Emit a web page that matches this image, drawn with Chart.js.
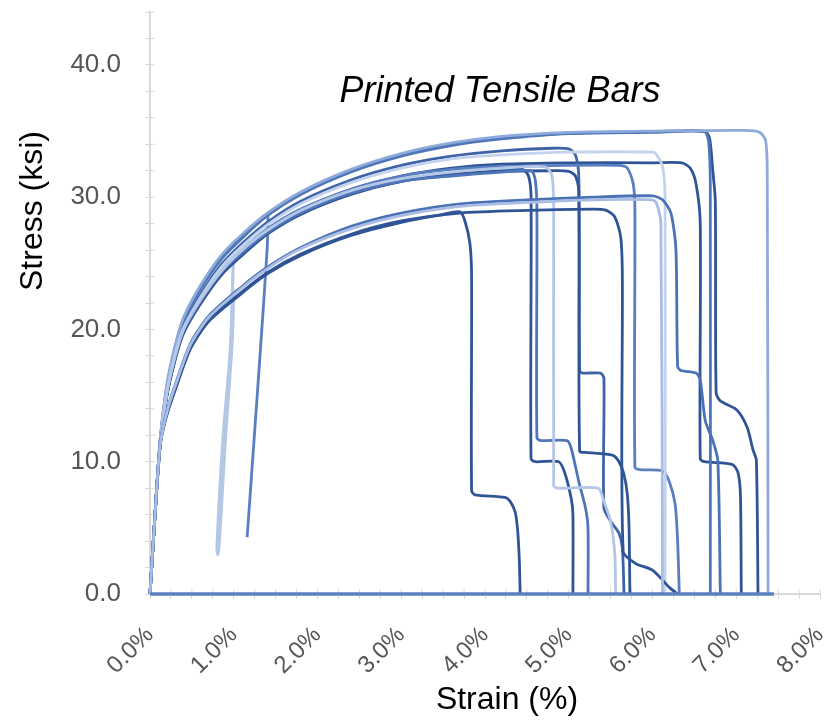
<!DOCTYPE html>
<html>
<head>
<meta charset="utf-8">
<script src="https://cdn.jsdelivr.net/npm/chart.js@4.4.1/dist/chart.umd.min.js"></script>
<style>
  html, body { margin: 0; padding: 0; background: #fff; }
  #wrap { width: 828px; height: 723px; }
</style>
</head>
<body>
<div id="wrap"><canvas id="tensileChart"></canvas></div>
<script>
// Texts
const chartTitle = "Printed Tensile Bars";
const xTitle = "Strain (%)";
const yTitle = "Stress (ksi)";

// Axis ranges / labelled ticks
const xMax = 8, xStep = 0.25;
const yMax = 44, yStep = 2;
const xLabelTicks = [0, 1, 2, 3, 4, 5, 6, 7, 8];
const yLabelTicks = [0, 10, 20, 30, 40];

// Curves: [strain %, stress ksi]
const barU1 = [[0,0],[0.06,6],[0.12,11.6],[0.2,15.8],[0.3,18.8],[0.4,20.9],[0.6,23.3],[0.85,25.6],[1.1,27.2],[1.4,28.8],[1.8,30.4],[2.4,32.1],[3.0,33.3],[3.6,34.1],[4.2,34.6],[5.0,34.9],[6.0,35.0],[7.1,35.05],[7.28,34.9],[7.35,34.3],[7.37,32],[7.38,0]];
const barU2 = [[0,0],[0.06,6],[0.12,11.5],[0.2,15.6],[0.3,18.6],[0.4,20.7],[0.6,23.1],[0.85,25.4],[1.1,27.0],[1.4,28.7],[1.8,30.3],[2.4,32.0],[3.0,33.2],[3.6,34.0],[4.2,34.5],[5.0,34.85],[6.0,34.95],[6.62,35.0],[6.68,34.5],[6.72,32],[6.75,29.7],[6.76,15.2],[6.81,14.6],[7.01,13.9],[7.13,12.6],[7.2,10.9],[7.24,10.1],[7.26,0]];
const barU3 = [[0,0],[0.06,6],[0.12,11.3],[0.2,15.3],[0.3,18.2],[0.4,20.3],[0.6,22.6],[0.85,24.9],[1.1,26.5],[1.4,28.1],[1.8,29.7],[2.4,31.3],[3.0,32.4],[3.6,33.1],[4.2,33.5],[4.8,33.7],[5.0,33.65],[5.08,33.2],[5.12,31.5],[5.13,16.9],[5.16,16.7],[5.38,16.7],[5.42,16.3],[5.42,6.5],[5.5,5.5],[5.6,4.6],[5.64,3.5],[5.66,0]];
const barU4 = [[0,0],[0.06,6],[0.12,11.2],[0.2,15.2],[0.3,18.1],[0.4,20.1],[0.6,22.4],[0.85,24.7],[1.1,26.3],[1.4,27.9],[1.8,29.5],[2.4,31.1],[3.0,32.2],[3.6,32.9],[4.2,33.2],[5.0,33.4],[6.0,33.4],[6.05,33.2],[6.12,32.3],[6.15,30],[6.15,0]];
const barU5 = [[0,0],[0.06,6],[0.12,11.2],[0.2,15.0],[0.3,17.8],[0.4,19.8],[0.6,22.1],[0.85,24.3],[1.1,25.9],[1.4,27.5],[1.8,29.0],[2.4,30.6],[3.0,31.6],[3.6,32.2],[4.2,32.5],[5.0,32.6],[6.0,32.6],[6.35,32.6],[6.45,32.2],[6.52,31],[6.57,28],[6.57,10.2],[6.62,10.0],[6.95,9.8],[7.02,9.2],[7.05,7.5],[7.06,0]];
const barU6 = [[0,0],[0.06,6],[0.12,11.1],[0.2,14.9],[0.3,17.7],[0.4,19.7],[0.6,21.9],[0.85,24.1],[1.1,25.6],[1.4,27.2],[1.8,28.7],[2.4,30.2],[3.0,31.2],[3.6,31.7],[4.2,31.95],[4.8,32.0],[5.0,31.95],[5.08,31.6],[5.12,30.5],[5.13,10.8],[5.2,10.7],[5.52,10.5],[5.6,10.0],[5.66,9.0],[5.7,7.5],[5.72,5],[5.73,0]];
const barU7 = [[0,0],[0.06,6],[0.12,11.2],[0.2,15.0],[0.3,17.8],[0.4,19.8],[0.6,22.0],[0.85,24.2],[1.1,25.7],[1.4,27.3],[1.8,28.8],[2.4,30.3],[3.0,31.2],[3.6,31.7],[4.2,32.0],[4.45,32.1],[4.52,31.6],[4.55,30],[4.55,10.2],[4.6,10.0],[4.88,10.0],[4.95,9.2],[5.03,7.2],[5.05,6],[5.05,0]];
const barU8 = [[0,0],[0.06,6],[0.12,11.2],[0.2,15.1],[0.3,17.9],[0.4,19.9],[0.6,22.1],[0.85,24.3],[1.1,25.8],[1.4,27.3],[1.8,28.8],[2.4,30.3],[3.0,31.2],[3.6,31.6],[4.2,31.9],[4.55,32.0],[4.6,31.3],[4.62,29],[4.62,11.8],[4.67,11.6],[4.98,11.6],[5.03,11.0],[5.12,8.5],[5.2,6.5],[5.23,5],[5.23,0]];
const barU9 = [[0,0],[0.06,6],[0.12,11.3],[0.2,15.2],[0.3,18.0],[0.4,20.0],[0.6,22.2],[0.85,24.4],[1.1,26.0],[1.4,27.5],[1.8,29.0],[2.4,30.5],[3.0,31.4],[3.6,31.9],[4.2,32.2],[4.72,32.3],[4.8,31.6],[4.82,29],[4.82,8.2],[4.86,8.0],[5.35,8.0],[5.42,7.0],[5.5,5.5],[5.55,3],[5.56,0]];
const barU10 = [[0,0],[0.06,6],[0.12,11.4],[0.2,15.5],[0.3,18.5],[0.4,20.6],[0.6,23.0],[0.85,25.3],[1.1,26.9],[1.4,28.6],[1.8,30.2],[2.4,31.9],[3.0,33.1],[3.6,33.9],[4.2,34.4],[5.0,34.8],[6.0,34.9],[6.62,34.95],[6.67,34.2],[6.69,31],[6.69,0]];
const barU11 = [[0,0],[0.06,6],[0.12,11.2],[0.2,15.1],[0.3,17.9],[0.4,19.9],[0.6,22.2],[0.85,24.4],[1.1,26.0],[1.4,27.6],[1.8,29.1],[2.4,30.6],[3.0,31.6],[3.6,32.1],[4.2,32.3],[5.0,32.4],[5.6,32.4],[5.7,32.2],[5.77,31],[5.79,29],[5.79,9.6],[5.85,9.4],[6.12,9.3],[6.2,8.5],[6.27,6.8],[6.3,4],[6.32,0]];
const barL1 = [[0,0],[0.06,6],[0.12,11.2],[0.2,13.6],[0.3,15.5],[0.48,18.6],[0.7,20.7],[1.07,22.7],[1.4,24.3],[1.8,25.7],[2.4,27.2],[3.0,28.2],[3.7,28.8],[4.5,29.0],[5.3,29.1],[5.45,29.0],[5.55,28.5],[5.62,27],[5.64,24],[5.65,3.2],[5.8,2.3],[6.0,1.8],[6.2,0.5],[6.3,0]];
const barL2 = [[0,0],[0.06,6],[0.12,11.3],[0.2,13.8],[0.3,15.8],[0.48,18.9],[0.7,21.0],[1.07,23.1],[1.4,24.7],[1.8,26.2],[2.4,27.8],[3.0,28.8],[3.7,29.5],[4.5,29.8],[5.3,30.0],[6.0,30.1],[6.12,29.8],[6.22,28.8],[6.28,26],[6.3,17.2],[6.34,16.9],[6.52,16.7],[6.57,16.2],[6.63,13.1],[6.72,11.6],[6.78,10.1],[6.81,0]];
const barL3 = [[0,0],[0.06,6],[0.12,11.2],[0.2,13.5],[0.3,15.4],[0.48,18.5],[0.7,20.6],[1.07,22.6],[1.4,24.2],[1.8,25.6],[2.4,27.1],[3.0,28.1],[3.5,28.7],[3.7,28.9],[3.76,28.2],[3.82,26.5],[3.84,24],[3.84,7.8],[3.88,7.5],[4.24,7.3],[4.3,7.0],[4.36,6.2],[4.39,4.8],[4.41,2.5],[4.42,0]];
const barL4 = [[0,0],[0.06,6],[0.12,11.2],[0.2,13.7],[0.3,15.7],[0.48,18.8],[0.7,20.9],[1.07,23.0],[1.4,24.6],[1.8,26.1],[2.4,27.6],[3.0,28.6],[3.7,29.3],[4.5,29.6],[5.3,29.8],[6.0,29.8],[6.05,29.5],[6.1,28],[6.12,0]];
const unload1 = [[1.0,25.9],[0.99,24.2],[0.96,18.5],[0.87,11.6],[0.8,3.5],[0.81,3.0],[0.83,4.2],[0.9,11.8],[0.98,19],[1.0,23]];
const unload2 = [[1.41,28.8],[1.4,26.2],[1.31,17.7],[1.28,15],[1.16,4.3]];
const baseline = [[0,0],[7.45,0]];

const series = [
  { data: baseline, color: '#5b7fbf', width: 3.5 },
  { data: barL4, color: '#a9bde4', width: 2.8 },
  { data: barL2, color: '#4a72b5', width: 2.8 },
  { data: barL1, color: '#2f5597', width: 2.8 },
  { data: barL3, color: '#2f5597', width: 2.8 },
  { data: barU9, color: '#b4c7e7', width: 2.8 },
  { data: barU4, color: '#c3d2ee', width: 2.8 },
  { data: barU1, color: '#8eaadb', width: 2.8 },
  { data: barU10, color: '#4f76b8', width: 2.8 },
  { data: barU11, color: '#5a7fc0', width: 2.8 },
  { data: barU8, color: '#4f76b8', width: 2.8 },
  { data: barU7, color: '#2f5597', width: 2.8 },
  { data: barU6, color: '#2f5597', width: 2.8 },
  { data: barU3, color: '#3e64a8', width: 2.8 },
  { data: barU5, color: '#2f5597', width: 2.8 },
  { data: barU2, color: '#2f5597', width: 2.8 },
  { data: unload1, color: '#b4c7e7', width: 3.2 },
  { data: unload2, color: '#5a7fc0', width: 2.8 }
];

// titles drawn as text on the canvas
const textPlugin = {
  id: 'chartTexts',
  afterDraw(chart) {
    const ctx = chart.ctx;
    ctx.save();
    ctx.fillStyle = '#000';
    ctx.textAlign = 'center';
    ctx.textBaseline = 'middle';
    ctx.font = 'italic 36px "Liberation Sans", Arial, sans-serif';
    ctx.fillText(chartTitle, 500, 92);
    ctx.font = '32px "Liberation Sans", Arial, sans-serif';
    ctx.fillText(xTitle, 507, 700);
    ctx.translate(33, 211);
    ctx.rotate(-Math.PI / 2);
    ctx.fillText(yTitle, 0, 0);
    ctx.restore();
  }
};

// inner half of the tick marks (chart.js only draws the outer half)
const innerTicks = {
  id: 'innerTicks',
  beforeDatasetsDraw(chart) {
    const { ctx, scales: { x, y } } = chart;
    ctx.save();
    ctx.strokeStyle = '#d9d9d9';
    ctx.lineWidth = 1;
    ctx.beginPath();
    x.ticks.forEach(t => {
      const px = x.getPixelForValue(t.value);
      ctx.moveTo(px, x.top); ctx.lineTo(px, x.top - 5);
    });
    y.ticks.forEach(t => {
      const py = y.getPixelForValue(t.value);
      ctx.moveTo(y.right, py); ctx.lineTo(y.right + 5, py);
    });
    ctx.stroke();
    ctx.restore();
  }
};

new Chart(document.getElementById('tensileChart'), {
  type: 'line',
  data: {
    datasets: series.map((s, i) => ({
      label: 'S' + i,
      data: s.data.map(p => ({ x: p[0], y: p[1] })),
      borderColor: s.color,
      borderWidth: s.width,
      pointRadius: 0,
      tension: 0.25,
      fill: false,
      clip: false
    }))
  },
  options: {
    responsive: true,
    maintainAspectRatio: false,
    animation: false,
    layout: { padding: { top: 12, right: 8, left: 0, bottom: 0 } },
    plugins: { legend: { display: false }, tooltip: { enabled: false } },
    scales: {
      x: {
        type: 'linear',
        min: 0, max: xMax,
        afterFit: s => { s.height = 129; s.paddingLeft = 0; s.paddingRight = 0; },
        border: { color: '#d9d9d9', width: 2 },
        grid: { drawOnChartArea: false, drawTicks: true, tickLength: 5, color: '#d9d9d9' },
        ticks: {
          stepSize: xStep,
          autoSkip: false,
          minRotation: 45, maxRotation: 45,
          padding: 22,
          color: '#555',
          font: { family: '"Liberation Sans", Arial, sans-serif', size: 24 },
          callback: v => xLabelTicks.includes(v) ? v.toFixed(1) + '%' : ''
        }
      },
      y: {
        min: 0, max: yMax,
        afterFit: s => { s.width = 150; s.paddingTop = 0; s.paddingBottom = 0; },
        border: { color: '#d9d9d9', width: 2 },
        grid: { drawOnChartArea: false, drawTicks: true, tickLength: 5, color: '#d9d9d9' },
        ticks: {
          stepSize: yStep,
          autoSkip: false,
          padding: 24,
          color: '#555',
          font: { family: '"Liberation Sans", Arial, sans-serif', size: 26 },
          callback: v => yLabelTicks.includes(v) ? v.toFixed(1) : ''
        }
      }
    }
  },
  plugins: [textPlugin, innerTicks]
});
</script>
</body>
</html>
